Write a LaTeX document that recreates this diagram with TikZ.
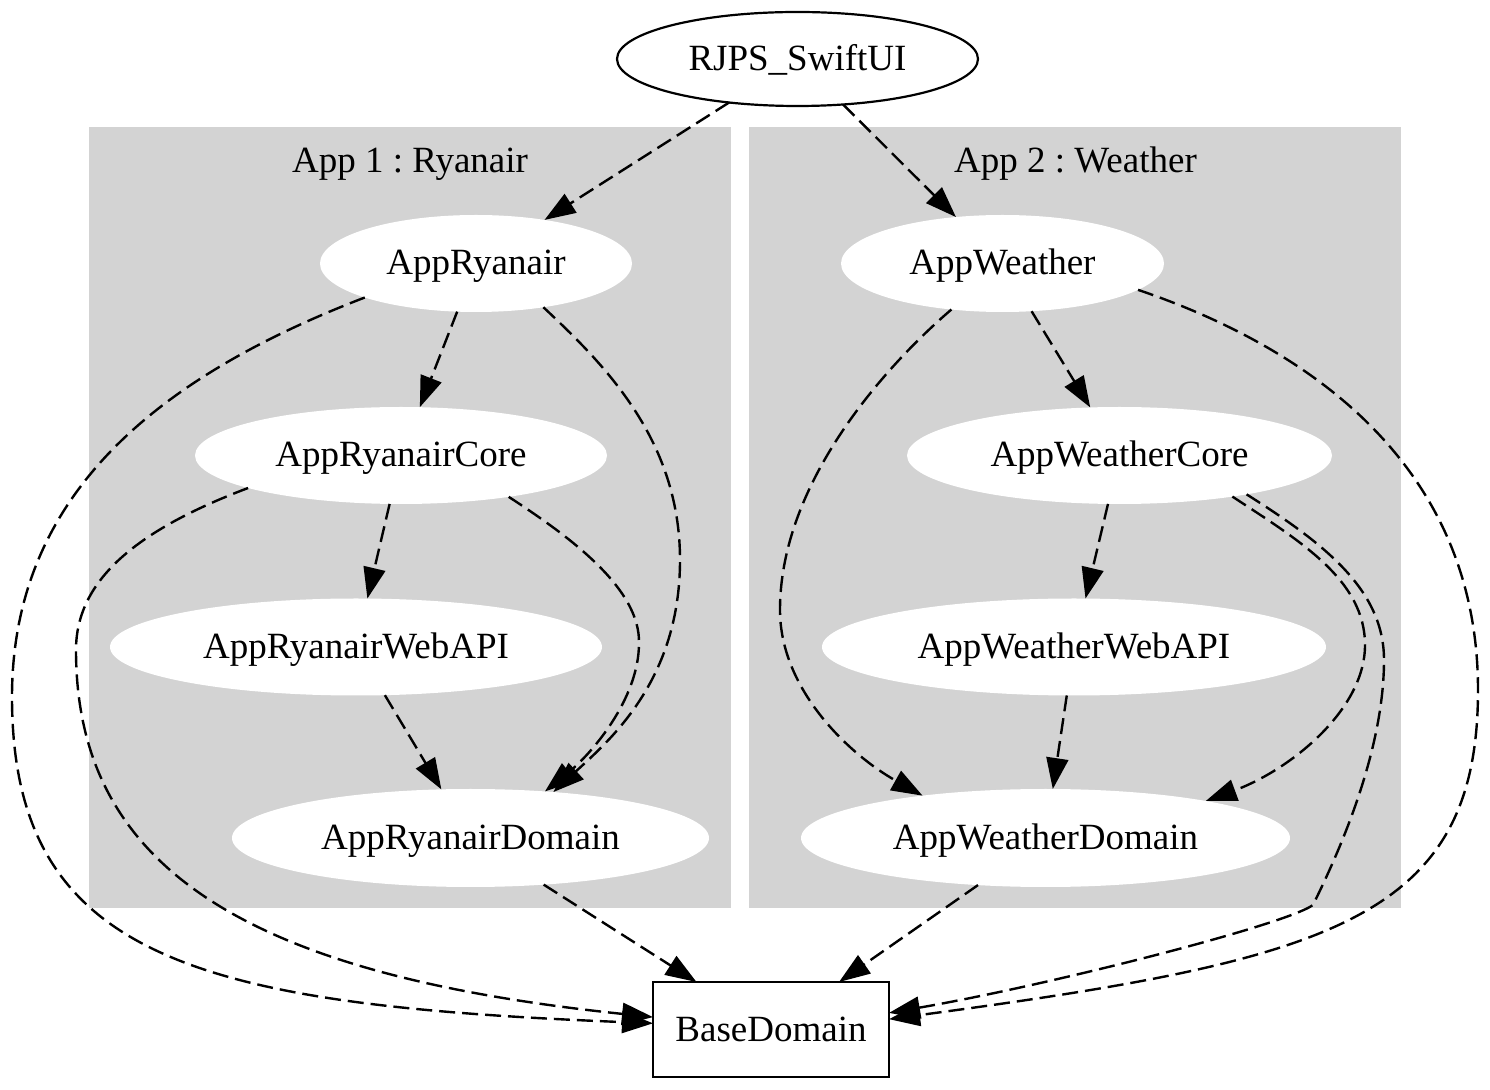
\documentclass[tikz,border=0pt]{standalone}
\usepackage{fontspec}
\setmainfont{Liberation Serif}
\usetikzlibrary{shapes.geometric,arrows.meta}
\definecolor{clgray}{HTML}{D3D3D3}
\frenchspacing
\begin{document}
\begin{tikzpicture}[x=0.5pt,y=-0.5pt,
  every node/.style={font=\fontsize{18.5pt}{22pt}\selectfont, text height=15pt, text depth=3.5pt, inner sep=0pt, outer sep=0pt},
  nd/.style={ellipse, fill=white, minimum height=48.5pt},
  boxnode/.style={rectangle, draw, line width=1.2pt, fill=white},
  topnode/.style={ellipse, draw, line width=1.1pt},
  edge/.style={line width=1.2pt, dash pattern=on 8pt off 3.5pt, -{Triangle[length=15.5pt,width=11pt]}},
  clus/.style={fill=clgray},
  clabel/.style={anchor=base}
]
\useasboundingbox (0,0) rectangle (1490,1090);

% clusters
\fill[clus] (88.5,127) rectangle (730.5,908.5);
\fill[clus] (749,127) rectangle (1401,908.5);
\node[clabel] (lab1) at (410,173) {App 1 : Ryanair};
\node[clabel] (lab2) at (1075.5,173) {App 2 : Weather};

% nodes
\node[topnode, minimum width=180.5pt, minimum height=47pt] (rjps) at (797.5,59) {RJPS\_SwiftUI};
\node[nd, minimum width=156pt] (ar) at (476,263.5) {AppRyanair};
\node[nd, minimum width=206pt] (arc) at (401,455.5) {AppRyanairCore};
\node[nd, minimum width=246pt] (arw) at (356,647) {AppRyanairWebAPI};
\node[nd, minimum width=238.5pt, minimum height=49pt] (ard) at (470.5,838) {AppRyanairDomain};
\node[nd, minimum width=161.5pt] (aw) at (1002.5,263.5) {AppWeather};
\node[nd, minimum width=212.5pt] (awc) at (1119.5,455.5) {AppWeatherCore};
\node[nd, minimum width=252pt] (aww) at (1074,647) {AppWeatherWebAPI};
\node[nd, minimum width=244.5pt, minimum height=49pt] (awd) at (1045.5,838) {AppWeatherDomain};
\node[boxnode, minimum width=118pt, minimum height=47.5pt] (base) at (771,1029.5) {BaseDomain};

% straight edges
\draw[edge] (rjps) -- (ar);
\draw[edge] (rjps) -- (aw);
\draw[edge] (ar) -- (arc);
\draw[edge] (arc) -- (arw);
\draw[edge] (arw) -- (ard);
\draw[edge] (ard) -- (base);
\draw[edge] (aw) -- (awc);
\draw[edge] (awc) -- (aww);
\draw[edge] (aww) -- (awd);
\draw[edge] (awd) -- (base);

% curved edges, left app
\draw[edge] (ar.197) .. controls (150,380) and (12,500) .. (12,697) .. controls (12,960) and (200,1005) .. (base.177);
\draw[edge] (arc.192) .. controls (137,530) and (76,580) .. (76,650) .. controls (76,870) and (250,975) .. (base.174);
\draw[edge] (ar.327) .. controls (605,365) and (680,440) .. (680,560) .. controls (680,680) and (610,740) .. (ard.29);
\draw[edge] (arc.339) .. controls (575,540) and (640,590) .. (639,643) .. controls (639,700) and (590,755) .. (ard.32);

% curved edges, right app
\draw[edge] (aw.222) .. controls (890,362) and (780,480) .. (780,610) .. controls (780,690) and (850,755) .. (awd.161);
\draw[edge] (aw.349) .. controls (1330,355) and (1478,480) .. (1478,690) .. controls (1478,920) and (1330,960) .. (base.5);
\draw[edge] (awc.340) .. controls (1300,541) and (1365,580) .. (1365,645) .. controls (1365,710) and (1290,770) .. (awd.13);
\draw[edge] (awc.343) .. controls (1325,544) and (1384,590) .. (1384,660) .. controls (1384,760) and (1330,870) .. (1313,905) .. controls (1285,925) and (1050,985) .. (base.8);
\end{tikzpicture}
\end{document}
